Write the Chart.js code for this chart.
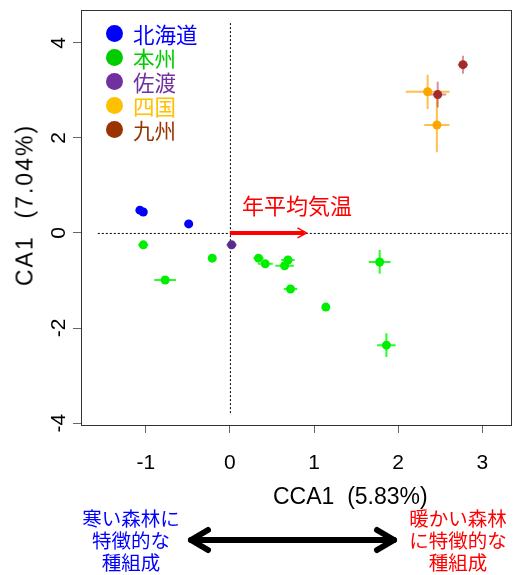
<!DOCTYPE html>
<html>
<head>
<meta charset="utf-8">
<script src="https://cdn.jsdelivr.net/npm/chart.js@4.4.1/dist/chart.umd.min.js"></script>
<style>
  html, body { margin: 0; padding: 0; background: #fff; }
  #wrap { position: relative; width: 515px; height: 575px; }
  #chart { position: absolute; left: 0; top: 0; }
  .t { position: absolute; white-space: pre; line-height: 1; }
  .en { font-family: "Liberation Sans", Arial, sans-serif; color: #000; }
  .jp { font-family: "Noto Sans CJK JP", sans-serif; }
  #legend { position: absolute; left: 106px; top: 22px; font-family: "Noto Sans CJK JP", sans-serif; font-size: 21.5px; }
  #legend div { height: 24px; line-height: 24px; position: relative; padding-left: 27px; }
  #legend span { position: absolute; left: 0; top: 3px; width: 17px; height: 17px; border-radius: 50%; }
  .note { position: absolute; width: 120px; text-align: center; font-family: "Noto Sans CJK JP", sans-serif; font-size: 19.5px; line-height: 22px; }
</style>
</head>
<body>
<div id="wrap">
  <canvas id="chart" width="515" height="575"></canvas>
  <div id="legend"></div>
  <div class="t jp" id="envLabel" style="left:242px;top:193px;font-size:22px;color:#ff0000">年平均気温</div>
  <div class="t en" id="xTitle" style="left:273px;top:485px;font-size:23px">CCA1  (5.83%)</div>
  <div class="t en" id="yTitle" style="left:25px;top:205px;font-size:23px;letter-spacing:2px;transform:translate(-50%,-50%) rotate(-90deg)">CA1  (7.04%)</div>
  <div class="note" style="left:71px;top:507px;color:#0000ff">寒い森林に<br>特徴的な<br>種組成</div>
  <div class="note" style="left:398px;top:507px;color:#ff0000">暖かい森林<br>に特徴的な<br>種組成</div>
  <svg style="position:absolute;left:0;top:0" width="515" height="575">
    <g stroke="#000" stroke-width="6" stroke-linecap="round" stroke-linejoin="round" fill="none">
      <line x1="191" y1="540" x2="394" y2="540"/>
      <polyline points="208,530 191,540 208,550"/>
      <polyline points="377,530 394,540 377,550"/>
    </g>
  </svg>
</div>
<script>
// regions
var regions = ["北海道", "本州", "佐渡", "四国", "九州"];
var legendColors = ["#0000ff", "#00cc00", "#7030a0", "#ffc000", "#993300"];
var pointColors = ["#0000ff", "#00ee00", "#5a2d8c", "#ffa500", "#a52a2a"];
var barColors = ["rgba(0,0,255,0.6)", "rgba(0,255,0,0.85)", "rgba(90,45,140,0.6)", "rgba(255,165,0,0.7)", "rgba(165,42,42,0.5)"];

// site scores (CCA1, CA1) and their errors
var hokkaidoX = [-1.07, -1.03, -0.49];
var hokkaidoY = [0.48, 0.44, 0.19];
var hokkaidoErrX = [0.03, 0.03, 0.05];
var hokkaidoErrY = [0.03, 0.03, 0.04];

var honshuX = [-1.03, -0.77, -0.21, 0.34, 0.42, 0.69, 0.65, 0.72, 1.14, 1.78, 1.86];
var honshuY = [-0.25, -0.99, -0.53, -0.53, -0.65, -0.57, -0.69, -1.18, -1.56, -0.61, -2.36];
var honshuErrX = [0.06, 0.13, 0.03, 0.06, 0.09, 0.08, 0.11, 0.08, 0.04, 0.13, 0.11];
var honshuErrY = [0.04, 0.03, 0.03, 0.04, 0.03, 0.04, 0.03, 0.04, 0.05, 0.25, 0.25];

var sadoX = [0.02];
var sadoY = [-0.25];
var sadoErrX = [0.06];
var sadoErrY = [0.05];

var shikokuX = [2.35, 2.46];
var shikokuY = [2.97, 2.27];
var shikokuErrX = [0.26, 0.15];
var shikokuErrY = [0.36, 0.57];

var kyushuX = [2.47, 2.77];
var kyushuY = [2.91, 3.54];
var kyushuErrX = [0.10, 0.06];
var kyushuErrY = [0.27, 0.19];

// environmental vector (annual mean temperature)
var envX = [0, 0.91];
var envY = [0, 0];

// dotted reference lines
var hLineX = [-1.57, 3.4];
var vLineY = [-3.79, 4.44];

var xTicks = [-1, 0, 1, 2, 3];
var yTicks = [-4, -2, 0, 2, 4];

function pts(xs, ys) {
  return xs.map(function (v, i) { return { x: v, y: ys[i] }; });
}

var groups = [
  [hokkaidoX, hokkaidoY, hokkaidoErrX, hokkaidoErrY],
  [honshuX, honshuY, honshuErrX, honshuErrY],
  [sadoX, sadoY, sadoErrX, sadoErrY],
  [shikokuX, shikokuY, shikokuErrX, shikokuErrY],
  [kyushuX, kyushuY, kyushuErrX, kyushuErrY]
];

var datasets = groups.map(function (g, i) {
  return {
    label: regions[i],
    data: pts(g[0], g[1]),
    errX: g[2],
    errY: g[3],
    errColor: barColors[i],
    backgroundColor: pointColors[i],
    borderColor: pointColors[i],
    borderWidth: 0,
    pointRadius: 4.5
  };
});

// legend
var legend = document.getElementById("legend");
regions.forEach(function (r, i) {
  var d = document.createElement("div");
  d.style.color = legendColors[i];
  d.innerHTML = '<span style="background:' + legendColors[i] + '"></span>' + r;
  legend.appendChild(d);
});

var extras = {
  id: "extras",
  beforeDatasetsDraw: function (chart) {
    var ctx = chart.ctx, x = chart.scales.x, y = chart.scales.y, a = chart.chartArea;
    ctx.save();
    ctx.beginPath();
    ctx.rect(a.left, a.top, a.right - a.left, a.bottom - a.top);
    ctx.clip();
    // dotted zero lines
    ctx.strokeStyle = "#000";
    ctx.lineWidth = 1;
    ctx.setLineDash([2, 2]);
    ctx.beginPath();
    ctx.moveTo(x.getPixelForValue(hLineX[0]), y.getPixelForValue(0) + 0.5);
    ctx.lineTo(x.getPixelForValue(hLineX[1]), y.getPixelForValue(0) + 0.5);
    ctx.moveTo(x.getPixelForValue(0) + 0.5, y.getPixelForValue(vLineY[0]));
    ctx.lineTo(x.getPixelForValue(0) + 0.5, y.getPixelForValue(vLineY[1]));
    ctx.stroke();
    ctx.setLineDash([]);

    // red arrow
    var x0 = x.getPixelForValue(envX[0]), y0 = y.getPixelForValue(envY[0]);
    var x1 = x.getPixelForValue(envX[1]), y1 = y.getPixelForValue(envY[1]);
    ctx.strokeStyle = "#ff0000";
    ctx.lineWidth = 4;
    ctx.beginPath();
    ctx.moveTo(x0, y0);
    ctx.lineTo(x1 - 2, y1);
    ctx.stroke();
    ctx.lineWidth = 1.5;
    ctx.beginPath();
    ctx.moveTo(x1 - 9, y1 - 5);
    ctx.lineTo(x1, y1);
    ctx.lineTo(x1 - 9, y1 + 5);
    ctx.stroke();

    // error bars
    chart.data.datasets.forEach(function (ds) {
      ctx.strokeStyle = ds.errColor;
      ctx.lineWidth = 2;
      ds.data.forEach(function (p, i) {
        var px = x.getPixelForValue(p.x), py = y.getPixelForValue(p.y);
        ctx.beginPath();
        ctx.moveTo(x.getPixelForValue(p.x - ds.errX[i]), py);
        ctx.lineTo(x.getPixelForValue(p.x + ds.errX[i]), py);
        ctx.moveTo(px, y.getPixelForValue(p.y - ds.errY[i]));
        ctx.lineTo(px, y.getPixelForValue(p.y + ds.errY[i]));
        ctx.stroke();
      });
    });
    ctx.restore();
  },
  afterDraw: function (chart) {
    var ctx = chart.ctx, a = chart.chartArea;
    ctx.save();
    ctx.strokeStyle = "#333";
    ctx.lineWidth = 1;
    ctx.strokeRect(Math.round(a.left) + 0.5, Math.round(a.top) + 0.5, Math.round(a.right - a.left), Math.round(a.bottom - a.top));
    ctx.restore();
  }
};

new Chart("chart", {
  type: "scatter",
  data: { datasets: datasets },
  plugins: [extras],
  options: {
    responsive: false,
    animation: false,
    devicePixelRatio: 1,
    layout: { padding: { top: 10, right: 4, left: 0, bottom: 0 } },
    plugins: { legend: { display: false }, tooltip: { enabled: false } },
    scales: {
      x: {
        type: "linear",
        min: -1.77,
        max: 3.335,
        afterBuildTicks: function (s) { s.ticks = xTicks.map(function (v) { return { value: v }; }); },
        afterFit: function (s) { s.height = 150; s.paddingLeft = 0; s.paddingRight = 0; },
        grid: { drawOnChartArea: false, drawTicks: true, tickLength: 8, color: "#666" },
        border: { display: true, color: "#333" },
        ticks: {
          autoSkip: false, maxRotation: 0, padding: 18, color: "#000",
          font: { family: "Liberation Sans", size: 21 },
          callback: function (v) { return String(v); }
        }
      },
      y: {
        type: "linear",
        min: -4.04,
        max: 4.69,
        afterBuildTicks: function (s) { s.ticks = yTicks.map(function (v) { return { value: v }; }); },
        afterFit: function (s) { s.width = 81; s.paddingTop = 0; s.paddingBottom = 0; },
        grid: { drawOnChartArea: false, drawTicks: true, tickLength: 8, color: "#666" },
        border: { display: true, color: "#333" },
        ticks: {
          autoSkip: false, minRotation: 90, maxRotation: 90, crossAlign: "center", padding: 4, color: "#000",
          font: { family: "Liberation Sans", size: 21 },
          callback: function (v) { return String(v); }
        }
      }
    }
  }
});
</script>
</body>
</html>
